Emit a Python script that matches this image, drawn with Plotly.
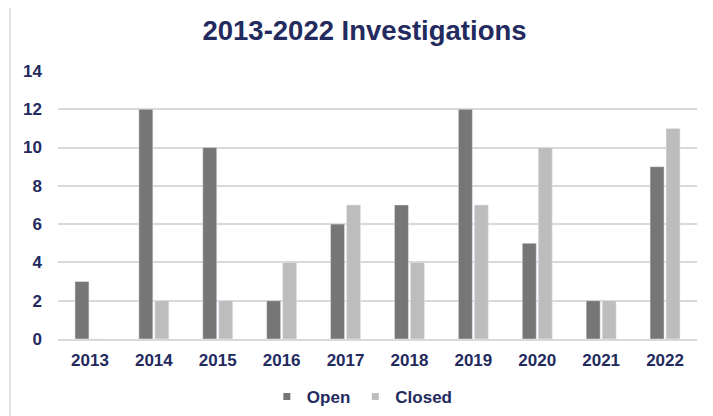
import plotly.graph_objects as go

years = ["2013", "2014", "2015", "2016", "2017", "2018", "2019", "2020", "2021", "2022"]
open_cases = [3, 12, 10, 2, 6, 7, 12, 5, 2, 9]
closed_cases = [0, 2, 2, 4, 7, 4, 7, 10, 2, 11]
y_ticks = [0, 2, 4, 6, 8, 10, 12, 14]
series_names = ["Open", "Closed"]
series_colors = ["#767676", "#bdbdbd"]

navy = "#232a5e"
fig = go.Figure()
for name, vals, col in zip(series_names, [open_cases, closed_cases], series_colors):
    fig.add_bar(x=years, y=vals, name=name, marker_color=col, showlegend=False)
    # legend entry with a small square marker, like the reference
    fig.add_scatter(x=[None], y=[None], mode="markers", name=name,
                    marker=dict(symbol="square", size=7, color=col))

fig.update_layout(
    width=713, height=416,
    margin=dict(l=50, r=24, t=62, b=85, autoexpand=False),
    paper_bgcolor="white", plot_bgcolor="white",
    barmode="group", bargap=0.5, bargroupgap=0.125,
    title=dict(text="<b>2013-2022 Investigations</b>", x=0.5, xanchor="center",
               y=0.947, yanchor="middle", yref="container",
               font=dict(family="Liberation Sans, Arial", size=27.5, color=navy)),
    font=dict(family="Liberation Sans, Arial", color=navy),
    legend=dict(orientation="h", x=0.497, xanchor="center", xref="container",
                y=0.065, yanchor="middle", yref="container",
                font=dict(size=17, color=navy, weight="bold"), itemwidth=30,
                traceorder="normal"),
    showlegend=True,
)
fig.update_yaxes(range=[0, 14.05], tickvals=y_ticks, showgrid=True, gridcolor="#d9d9d9",
                 gridwidth=1.5, zeroline=False, showline=False, ticks="", automargin=False,
                 tickfont=dict(size=17, color=navy, weight="bold"), ticklabelstandoff=15)
fig.update_xaxes(showline=True, linecolor="#d9d9d9", linewidth=1.5, ticks="", automargin=False,
                 tickfont=dict(size=17, color=navy, weight="bold"), ticklabelstandoff=5)
fig.add_shape(type="line", xref="paper", yref="paper", x0=-0.075, x1=-0.075,
              y0=-0.5, y1=1.5, line=dict(color="#d9d9d9", width=1.5))
fig.write_html("out.html")
